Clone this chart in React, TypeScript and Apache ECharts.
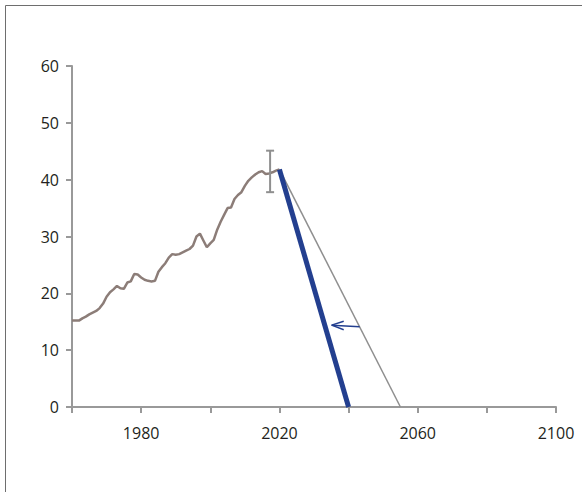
import React, { useEffect, useRef } from "react";
import * as echarts from "echarts";

const years: number[] = [];
for (let y = 1960; y <= 2020; y++) years.push(y);
const historical = [
  15.2, 15.2, 15.2, 15.6, 15.9, 16.3, 16.6, 16.9, 17.4, 18.2,
  19.4, 20.2, 20.7, 21.3, 20.9, 20.8, 21.9, 22.1, 23.4, 23.3,
  22.8, 22.4, 22.2, 22.1, 22.2, 23.8, 24.6, 25.3, 26.3, 26.9,
  26.8, 26.9, 27.2, 27.5, 27.8, 28.4, 30.0, 30.5, 29.3, 28.1,
  28.8, 29.4, 31.2, 32.6, 33.8, 35.0, 35.1, 36.6, 37.3, 37.8,
  38.9, 39.8, 40.4, 40.9, 41.3, 41.5, 41.0, 41.1, 41.3, 41.6,
  41.8,
];
const slowPath: [number, number][] = [[2020, 41.8], [2055, 0]];
const fastPath: [number, number][] = [[2020, 41.8], [2040, 0]];
const errorBar: [number, number, number][] = [[2017.3, 37.8, 45.1]];
const arrowShaft: [number, number][] = [[2043.2, 14.1], [2035.1, 14.4]];
const arrowHead: [number, number][] = [[2038.6, 15.1], [2035.1, 14.4], [2038.6, 13.6]];
const xTicks = [1980, 2020, 2060, 2100];

export default function App() {
  const ref = useRef<HTMLDivElement>(null);
  useEffect(() => {
    if (!ref.current) return;
    const chart = echarts.init(ref.current, undefined, { renderer: "svg" });
    const font = "'Open Sans', 'Noto Sans', sans-serif";
    chart.setOption({
      animation: false,
      backgroundColor: "#ffffff",
      graphic: [
        {
          type: "rect",
          shape: { x: 5.5, y: 5.5, width: 700, height: 700 },
          style: { fill: "none", stroke: "#6e6e6e", lineWidth: 1 },
          silent: true,
        },
      ],
      grid: { left: 72, top: 66, right: 26, bottom: 85, containLabel: false },
      xAxis: {
        type: "value",
        min: 1960,
        max: 2100,
        interval: 20,
        axisLine: { lineStyle: { color: "#999999", width: 2 } },
        axisTick: { show: true, length: 6, lineStyle: { color: "#999999", width: 2 } },
        splitLine: { show: false },
        axisLabel: {
          margin: 18,
          fontSize: 16,
          fontFamily: font,
          color: "#231f20",
          formatter: (v: number) => (xTicks.includes(v) ? String(v) : ""),
          showMinLabel: true,
          showMaxLabel: true,
        },
      },
      yAxis: {
        type: "value",
        min: 0,
        max: 60,
        interval: 10,
        axisLine: { show: true, lineStyle: { color: "#999999", width: 2 } },
        axisTick: { show: true, length: 6, lineStyle: { color: "#999999", width: 2 } },
        splitLine: { show: false },
        axisLabel: {
          margin: 13,
          fontSize: 16,
          fontFamily: font,
          color: "#231f20",
        },
      },
      series: [
        {
          type: "line",
          data: years.map((y, i) => [y, historical[i]]),
          showSymbol: false,
          lineStyle: { color: "#8c7d78", width: 2.5 },
          z: 3,
        },
        {
          type: "line",
          data: slowPath,
          showSymbol: false,
          lineStyle: { color: "#8f8f8f", width: 1.5 },
          z: 2,
        },
        {
          type: "line",
          data: fastPath,
          showSymbol: false,
          lineStyle: { color: "#233f8f", width: 5 },
          z: 4,
        },
        {
          type: "line",
          data: arrowShaft,
          showSymbol: false,
          lineStyle: { color: "#233f8f", width: 1.5 },
          z: 4,
        },
        {
          type: "line",
          data: arrowHead,
          showSymbol: false,
          lineStyle: { color: "#233f8f", width: 1.5 },
          z: 4,
        },
        {
          type: "custom",
          data: errorBar,
          z: 5,
          renderItem: (params: any, api: any) => {
            const x = api.value(0);
            const lo = api.coord([x, api.value(1)]);
            const hi = api.coord([x, api.value(2)]);
            const style = { stroke: "#8f8f8f", lineWidth: 2 };
            return {
              type: "group",
              children: [
                { type: "line", shape: { x1: lo[0], y1: lo[1], x2: hi[0], y2: hi[1] }, style },
                { type: "line", shape: { x1: lo[0] - 4, y1: lo[1], x2: lo[0] + 4, y2: lo[1] }, style },
                { type: "line", shape: { x1: hi[0] - 4, y1: hi[1], x2: hi[0] + 4, y2: hi[1] }, style },
              ],
            };
          },
        },
      ],
    });
    return () => chart.dispose();
  }, []);
  return (
    <div
      ref={ref}
      style={{ position: "fixed", left: 0, top: 0, width: 582, height: 492 }}
    />
  );
}
